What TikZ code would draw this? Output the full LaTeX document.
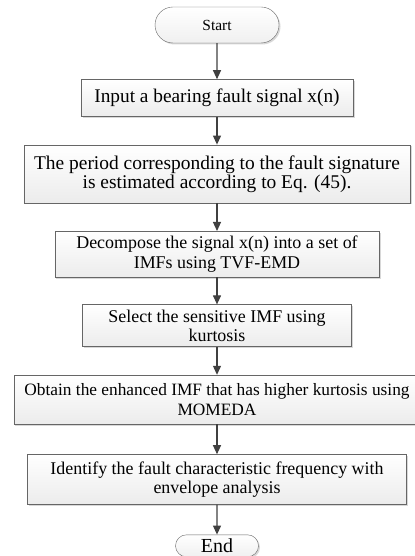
\documentclass[tikz,border=0pt]{standalone}
\usepackage{fontspec}
\setmainfont{Liberation Serif}
\usetikzlibrary{arrows.meta,positioning,shapes,shadows}

\begin{document}
\begin{tikzpicture}[x=1bp,y=-1bp]
		\tikzstyle{terminal} = [rounded rectangle, draw=gray!80!black, top color=white, bottom color=gray!12, drop shadow={shadow xshift=1.5bp, shadow yshift=-1.5bp, fill=gray!60, opacity=0.5}, inner sep=0pt]
		\tikzstyle{block} = [rectangle, draw=gray!80!black, top color=white, bottom color=gray!15, drop shadow={shadow xshift=1.5bp, shadow yshift=-1.5bp, fill=gray!60, opacity=0.5}, align=center, inner sep=0pt, font=\fontsize{18}{19.5}\selectfont]
		\tikzstyle{arrow} = [draw=black!75, line width=1.1bp, -{Triangle[width=8bp,length=9bp]}]
		\useasboundingbox (0,0) rectangle (414,556);
		\node [terminal, minimum width=124bp, minimum height=36bp, font=\fontsize{15.5}{17}\selectfont] (start) at (217,25) {Start};
		\node [block, below=36bp of start, minimum width=272bp, minimum height=37bp, font=\fontsize{19.4}{20}\selectfont] (input) {Input a bearing fault signal x(n)};
		\node [block, below=28bp of input, minimum width=386bp, minimum height=58bp, font=\fontsize{19.5}{19}\selectfont] (period) {The period corresponding to the fault signature\\is estimated according to Eq. (45).};
		\node [block, below=28bp of period, minimum width=324bp, minimum height=46bp] (decomp) {Decompose the signal x(n) into a set of\\IMFs using TVF-EMD};
		\node [block, below=27bp of decomp, minimum width=269bp, minimum height=42bp] (select) {Select the sensitive IMF using\\kurtosis};
		\node [block, below=28bp of select, minimum width=406bp, minimum height=49bp, font=\fontsize{17.4}{19.5}\selectfont] (enhance) {Obtain the enhanced IMF that has higher kurtosis using\\MOMEDA};
		\node [block, below=30bp of enhance, minimum width=379bp, minimum height=50bp] (identify) {Identify the fault characteristic frequency with\\envelope analysis};
		\node [terminal, below=30bp of identify, minimum width=83bp, minimum height=22bp, font=\fontsize{20}{20}\selectfont] (end) {End};

		\path[arrow] (start) -- (input);
		\path[arrow] (input) -- (period);
		\path[arrow] (period) -- (decomp);
		\path[arrow] (decomp) -- (select);
		\path[arrow] (select) -- (enhance);
		\path[arrow] (enhance) -- (identify);
		\path[arrow] (identify) -- (end);
	\end{tikzpicture}
\end{document}
